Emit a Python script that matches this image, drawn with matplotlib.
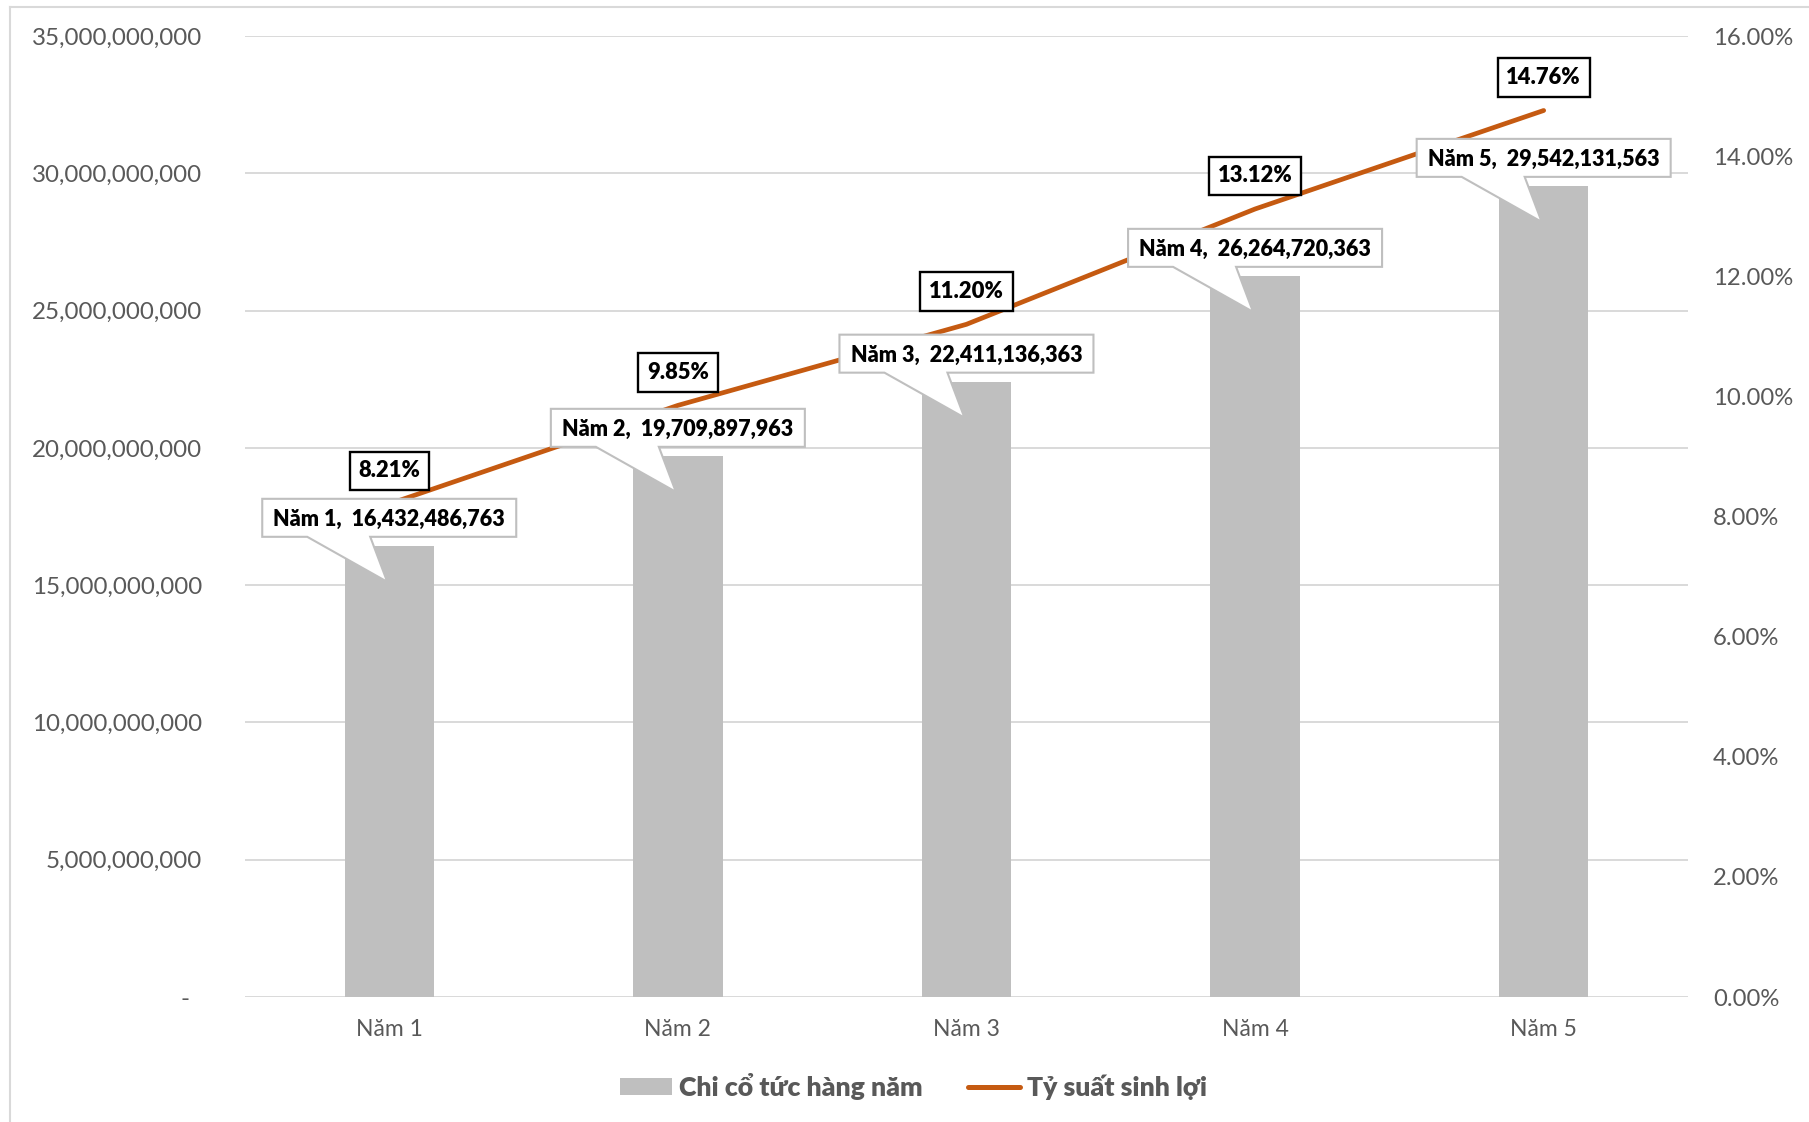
import matplotlib
matplotlib.use("Agg")
import matplotlib.pyplot as plt
import matplotlib.transforms as mtransforms
from matplotlib.patches import Polygon, Patch
from matplotlib.lines import Line2D
from matplotlib.ticker import FuncFormatter, MultipleLocator

# data
years = ["Năm 1", "Năm 2", "Năm 3", "Năm 4", "Năm 5"]
dividends = [16432486763, 19709897963, 22411136363, 26264720363, 29542131563]
yield_pct = [8.21, 9.85, 11.20, 13.12, 14.76]

bar_color = "#BFBFBF"
line_color = "#C55A11"
grid_color = "#D9D9D9"
text_color = "#595959"

plt.rcParams["font.family"] = ["Lato", "Noto Sans", "DejaVu Sans"]

fig = plt.figure(figsize=(18.09, 11.22), dpi=100)
ax = fig.add_axes([0.1354, 0.1114, 0.7977, 0.8565])
ax2 = ax.twinx()

x = list(range(len(years)))

# bars on the left axis
ax.bar(x, dividends, width=0.31, color=bar_color, zorder=2)
ax.set_xlim(-0.5, len(years) - 0.5)
ax.set_ylim(0, 35e9)
ax.yaxis.set_major_locator(MultipleLocator(5e9))
ax.set_axisbelow(True)
ax.grid(axis="y", color=grid_color, lw=1.4)
ax.set_xticks(x)
ax.set_xticklabels(years)
ax.yaxis.set_major_formatter(FuncFormatter(lambda v, p: "-  " if v == 0 else f"{v:,.0f}"))
ax.tick_params(axis="y", length=0, pad=31, labelsize=17.4, labelcolor=text_color)
ax.tick_params(axis="x", length=0, pad=16, labelsize=16.5, labelcolor=text_color)

# line on the right axis
ax2.plot(x, yield_pct, color=line_color, lw=3.4, solid_capstyle="round", zorder=3)
ax2.set_ylim(0, 16)
ax2.yaxis.set_major_locator(MultipleLocator(2))
ax2.yaxis.set_major_formatter(FuncFormatter(lambda v, p: f"{v:.2f}%"))
ax2.tick_params(axis="y", length=0, pad=18, labelsize=17.2, labelcolor=text_color)

for a in (ax, ax2):
    for s in a.spines.values():
        s.set_visible(False)

# callout labels for the bars (offsets in pixels from the bar top)
callout = [(-127, 9), (-82, 9), (-2, -36), (-19, 9), (127, 9), (127, 47), (-127, 47)]
for i, v in enumerate(dividends):
    tr = mtransforms.ScaledTranslation(x[i], v, ax.transData)
    ax2.add_patch(Polygon(callout, closed=True, transform=tr, facecolor="white",
                          edgecolor=bar_color, lw=1.5, zorder=5, clip_on=False))
    ax2.text(0, 26, f"{years[i]},  {v:,}", transform=tr, ha="center", va="center",
             fontsize=15.5, fontweight="heavy", color="black", zorder=6)

# percentage labels above the line
for i, v in enumerate(yield_pct):
    ax2.annotate(f"{v:.2f}%", (x[i], v), xytext=(0, 33), textcoords="offset pixels",
                 ha="center", va="center", fontsize=15.8, fontweight="heavy", zorder=7,
                 bbox=dict(boxstyle="square,pad=0.4", fc="white", ec="black", lw=1.7))

handles = [Patch(facecolor=bar_color, edgecolor="none"),
           Line2D([], [], color=line_color, lw=3.6, solid_capstyle="round")]
fig.legend(handles, ["Chi cổ tức hàng năm", "Tỷ suất sinh lợi"], loc="center",
           bbox_to_anchor=(0.505, 0.032), ncol=2, frameon=False,
           prop={"size": 19.2, "weight": "heavy"}, labelcolor=text_color,
           handlelength=1.95, handleheight=0.6, handletextpad=0.27, columnspacing=1.7)

# thin chart border (left and top only)
fig.add_artist(Line2D([10 / 1809, 10 / 1809], [0, 1 - 7 / 1122], transform=fig.transFigure,
                      color=grid_color, lw=1.5))
fig.add_artist(Line2D([10 / 1809, 1], [1 - 7 / 1122, 1 - 7 / 1122], transform=fig.transFigure,
                      color=grid_color, lw=1.5))

fig.savefig("out.png", dpi=100)
